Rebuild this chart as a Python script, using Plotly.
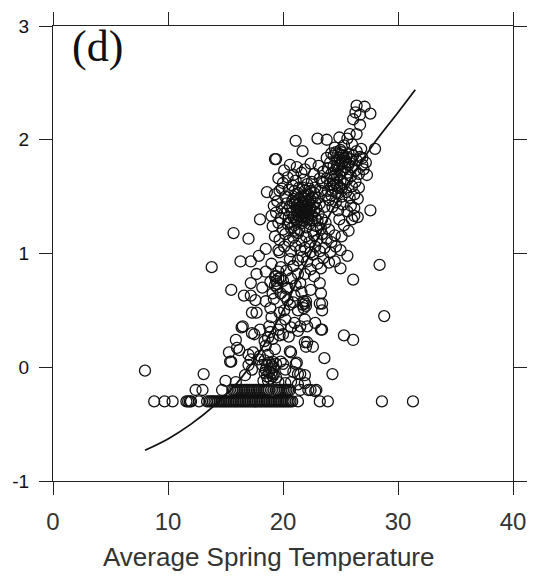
import plotly.graph_objects as go

# ---- data ----
# temperatures of the points sitting on the two lowest rows
row_m030_temp = [8.8, 9.7, 10.4, 11.6, 11.75, 11.9, 12.0, 12.7, 13.4, 13.6, 13.75, 13.9, 14.05,
                 14.2, 14.35, 14.5, 14.65, 14.8, 14.95, 15.1, 15.25, 15.4, 15.55, 15.7, 15.85,
                 16.0, 16.15, 16.3, 16.45, 16.6, 16.75, 16.9, 17.05, 17.2, 17.35, 17.5, 17.65,
                 17.8, 17.95, 18.1, 18.25, 18.4, 18.55, 18.7, 18.85, 19.0, 19.15, 19.3, 19.45,
                 19.6, 19.75, 19.9, 20.05, 20.2, 20.35, 20.5, 20.65, 20.8, 21.3, 23.2, 23.9,
                 28.6, 31.3]
row_m030_value = -0.30
row_m020_temp = [12.4, 13.0, 14.7, 15.6, 15.75, 15.9, 16.05, 16.2, 16.35, 16.5, 16.65, 16.8,
                 16.95, 17.1, 17.25, 17.4, 17.55, 17.7, 17.85, 18.0, 18.15, 18.3, 18.45, 18.6,
                 18.75, 19.4, 19.55, 19.7, 19.85, 20.0, 20.15, 20.3, 20.45, 20.6, 21.5, 22.2, 22.9]
row_m020_value = -0.20

lower_band = [(13.1, -0.06), (15.0, -0.12), (15.9, -0.13), (15.3, 0.13), (15.4, 0.05), (15.5, 0.05),
              (15.9, 0.24), (16.0, 0.17), (16.2, 0.15), (16.4, 0.35), (16.5, 0.36), (16.7, -0.07),
              (17.0, 0.11), (17.0, 0.02), (17.2, 0.07), (17.3, -0.02), (17.3, 0.30), (17.4, 0.13),
              (17.5, 0.29), (17.9, 0.07), (18.0, 0.33), (18.0, 0.10), (18.2, 0.02), (18.4, -0.05),
              (18.4, 0.23), (18.5, 0.19), (18.5, -0.02), (18.6, -0.08), (18.7, 0.11), (18.7, 0.26),
              (18.8, 0.04), (18.9, -0.10), (18.9, 0.31), (19.0, -0.05), (19.1, 0.25), (19.2, 0.00),
              (19.3, 0.16), (19.4, 0.03), (19.6, 0.33), (19.6, -0.13), (19.7, 0.28), (19.8, 0.05),
              (20.0, 0.29), (20.0, 0.03), (20.2, -0.02), (20.2, -0.14), (20.6, 0.14), (20.7, 0.35),
              (20.7, 0.13), (20.7, -0.13), (20.9, -0.04), (21.1, 0.03), (21.2, 0.04), (21.3, -0.15),
              (21.3, -0.06), (21.5, 0.36), (21.5, -0.06), (21.9, -0.07), (21.9, -0.14), (21.9, 0.22),
              (22.0, 0.18), (22.1, 0.22), (22.4, -0.20), (22.6, 0.18), (22.8, -0.21), (23.6, 0.08),
              (24.3, -0.06), (18.3, -0.12), (19.1, -0.08), (18.6, 0.02), (18.8, -0.04), (19.0, 0.02),
              (19.2, -0.06), (18.4, 0.06), (18.9, -0.01), (19.1, 0.05), (18.7, -0.12), (19.4, -0.09)]

middle_band = [(13.8, 0.88), (15.5, 0.68), (15.7, 1.18), (16.3, 0.93), (16.6, 0.63), (17.0, 1.13),
               (17.2, 0.93), (17.2, 0.74), (17.2, 0.63), (17.3, 0.48), (17.6, 0.59), (17.7, 0.82),
               (17.7, 0.48), (17.9, 0.98), (18.5, 1.04), (18.5, 0.84), (18.5, 0.58), (18.9, 0.75),
               (18.9, 0.52), (19.0, 0.91), (19.1, 0.65), (19.3, 0.80), (19.4, 0.80), (19.6, 0.84),
               (19.7, 1.01), (19.7, 0.48), (19.8, 0.65), (19.8, 0.88), (19.8, 0.37), (20.2, 0.42),
               (20.3, 0.85), (20.3, 0.69), (20.4, 0.59), (20.6, 0.95), (20.7, 0.78), (20.9, 0.89),
               (21.0, 0.63), (21.0, 0.39), (21.3, 0.94), (21.3, 0.82), (21.3, 0.50), (21.3, 0.32),
               (21.5, 0.74), (21.9, 0.82), (21.9, 0.56), (21.8, 0.58), (22.0, 0.54), (21.9, 0.42),
               (22.1, 0.36), (22.1, 0.93), (22.4, 0.68), (22.6, 0.99), (22.8, 0.39), (23.0, 0.91),
               (23.2, 0.74), (23.3, 0.65), (23.3, 0.33), (23.4, 0.56), (23.2, 0.56), (23.4, 0.50),
               (23.4, 0.33), (19.5, 0.70), (20.0, 0.76), (20.6, 0.55), (19.2, 0.60), (18.2, 0.70),
               (20.1, 0.50), (21.6, 0.66), (22.7, 0.80), (18.8, 0.36), (20.5, 0.27), (19.0, 0.44),
               (19.4, 0.76), (19.6, 0.78), (19.5, 0.73), (19.8, 0.79), (19.3, 0.72), (21.8, 0.52),
               (22.0, 0.58), (21.7, 0.55), (20.2, 0.62), (20.4, 0.70), (21.1, 0.72), (20.9, 0.57)]

main_cluster = [(19.4, 1.83), (20.1, 1.73), (20.6, 1.78), (21.2, 1.76), (21.9, 1.74), (22.4, 1.79),
                (23.1, 1.77), (20.9, 1.69), (21.6, 1.71), (22.7, 1.70), (19.6, 1.66), (20.0, 1.62),
                (20.4, 1.67), (20.8, 1.60), (21.1, 1.64), (21.4, 1.58), (21.8, 1.65), (22.1, 1.61),
                (22.5, 1.63), (22.8, 1.58), (23.2, 1.66), (23.5, 1.62), (19.9, 1.57), (21.0, 1.55),
                (19.3, 1.52), (19.7, 1.55), (20.2, 1.50), (20.5, 1.56), (20.9, 1.48), (21.3, 1.53),
                (21.6, 1.50), (21.9, 1.55), (22.2, 1.52), (22.4, 1.47), (22.7, 1.53), (23.0, 1.49),
                (23.3, 1.55), (23.7, 1.51), (21.7, 1.58), (22.0, 1.46), (19.2, 1.42), (19.5, 1.46),
                (19.9, 1.40), (20.3, 1.44), (20.6, 1.41), (21.0, 1.43), (21.2, 1.38), (21.5, 1.45),
                (21.8, 1.41), (22.1, 1.43), (22.3, 1.38), (22.6, 1.42), (22.9, 1.40), (23.2, 1.44),
                (23.6, 1.41), (21.4, 1.40), (21.7, 1.36), (22.0, 1.37), (19.0, 1.33), (19.4, 1.36),
                (19.8, 1.31), (20.1, 1.35), (20.5, 1.32), (20.8, 1.36), (21.1, 1.30), (21.3, 1.34),
                (21.6, 1.32), (21.9, 1.33), (22.2, 1.30), (22.5, 1.34), (22.8, 1.31), (23.1, 1.35),
                (23.4, 1.30), (21.5, 1.36), (21.8, 1.29), (22.0, 1.35), (19.1, 1.24), (19.6, 1.27),
                (20.0, 1.21), (20.4, 1.26), (20.7, 1.22), (21.0, 1.25), (21.4, 1.21), (21.7, 1.27),
                (22.0, 1.23), (22.3, 1.26), (22.6, 1.20), (22.9, 1.24), (23.3, 1.22), (23.7, 1.27),
                (24.0, 1.21), (21.2, 1.28), (19.3, 1.15), (19.7, 1.12), (20.2, 1.17), (20.5, 1.11),
                (20.9, 1.14), (21.3, 1.18), (21.6, 1.11), (22.0, 1.15), (22.3, 1.10), (22.7, 1.16),
                (23.0, 1.12), (23.4, 1.17), (23.8, 1.13), (24.2, 1.10), (24.5, 1.16), (19.6, 1.03),
                (20.1, 1.06), (20.7, 1.02), (21.1, 1.07), (21.5, 1.03), (21.9, 1.05), (22.4, 1.01),
                (22.8, 1.06), (23.2, 1.02), (23.6, 1.05), (24.1, 1.01), (24.6, 1.06), (25.0, 1.03),
                (20.9, 0.89), (21.7, 0.97), (23.5, 0.96), (24.0, 0.92), (23.3, 0.87), (22.4, 0.86),
                (18.0, 1.30), (18.6, 1.54), (21.1, 1.99), (21.7, 1.90), (21.8, 1.48), (22.1, 1.40),
                (21.6, 1.42), (22.2, 1.35), (21.4, 1.33), (22.4, 1.55), (21.2, 1.46), (22.5, 1.29),
                (21.5, 1.39), (21.7, 1.33), (21.9, 1.38), (22.1, 1.32), (21.6, 1.29), (21.8, 1.35),
                (22.0, 1.41), (21.4, 1.48), (21.9, 1.51), (22.2, 1.46), (22.3, 1.57), (21.7, 1.44),
                (22.6, 1.49), (22.8, 1.45), (21.3, 1.43), (20.8, 1.46), (21.1, 1.52), (22.4, 1.40),
                (20.6, 1.27), (20.9, 1.32), (22.7, 1.37), (23.0, 1.29), (20.4, 1.38), (21.0, 1.20)]

upper_cluster = [(23.0, 2.01), (23.8, 2.00), (24.9, 2.02), (25.6, 2.01), (25.8, 2.05), (26.4, 2.05),
                 (25.3, 1.95), (26.0, 1.96), (26.4, 1.90), (24.5, 1.93), (25.0, 1.91), (24.2, 1.88),
                 (23.8, 1.84), (24.1, 1.80), (24.4, 1.86), (24.7, 1.82), (25.0, 1.87), (25.2, 1.81),
                 (25.5, 1.85), (25.8, 1.80), (26.1, 1.86), (26.4, 1.82), (26.7, 1.85), (26.9, 1.78),
                 (27.2, 1.80), (24.9, 1.78), (25.4, 1.76), (26.0, 1.76), (23.5, 1.72), (23.9, 1.75),
                 (24.2, 1.70), (24.6, 1.74), (24.9, 1.69), (25.2, 1.73), (25.6, 1.71), (25.9, 1.68),
                 (26.3, 1.73), (26.6, 1.70), (27.0, 1.74), (24.4, 1.77), (25.7, 1.78), (23.4, 1.63),
                 (23.8, 1.66), (24.1, 1.61), (24.4, 1.65), (24.7, 1.60), (25.0, 1.64), (25.3, 1.61),
                 (25.6, 1.65), (26.0, 1.59), (26.3, 1.63), (26.6, 1.58), (24.5, 1.69), (25.1, 1.57),
                 (23.9, 1.55), (24.2, 1.51), (24.5, 1.57), (24.8, 1.53), (25.1, 1.50), (25.5, 1.54),
                 (25.8, 1.49), (26.2, 1.52), (26.5, 1.48), (24.0, 1.47), (24.6, 1.45), (24.3, 1.41),
                 (24.8, 1.38), (25.2, 1.43), (25.6, 1.37), (25.9, 1.42), (26.2, 1.33), (26.5, 1.32),
                 (26.0, 1.30), (24.9, 1.30), (25.3, 1.25), (25.7, 1.20), (25.1, 1.15), (26.2, 1.40),
                 (24.8, 1.88), (25.3, 1.84), (25.1, 1.79), (24.6, 1.89), (25.7, 1.88), (26.8, 1.92),
                 (24.9, 1.84), (25.1, 1.89), (25.4, 1.80), (24.7, 1.77), (25.2, 1.86), (25.9, 1.83),
                 (24.6, 1.62), (24.9, 1.58), (24.3, 1.55), (24.7, 1.67), (25.0, 1.72), (24.4, 1.60)]

outliers = [(8.0, -0.03), (26.3, 2.24), (26.4, 2.30), (26.7, 2.22), (27.1, 2.29), (27.6, 2.23),
            (26.1, 2.18), (26.7, 2.13), (28.0, 1.92), (27.3, 1.69), (27.6, 1.38), (28.4, 0.90),
            (28.8, 0.45), (25.6, 0.98), (24.5, 0.93), (25.0, 0.87), (26.1, 0.77), (25.3, 0.28),
            (26.1, 0.24), (19.3, 1.83), (26.9, 1.84)]

# fitted curve
curve_temp = [8.0, 10.0, 12.0, 14.0, 16.0, 18.0, 20.0, 22.0, 24.0, 26.0, 28.0, 30.0, 31.5]
curve_value = [-0.73, -0.63, -0.50, -0.34, -0.14, 0.14, 0.50, 0.92, 1.33, 1.68, 1.98, 2.24, 2.44]

x_ticks = [0, 10, 20, 30, 40]
y_ticks = [-1, 0, 1, 2, 3]
panel_label = "(d)"
x_title = "Average Spring Temperature"

# ---- assemble ----
pts_x, pts_y = [], []
for t in row_m030_temp:
    pts_x.append(t); pts_y.append(row_m030_value)
for t in row_m020_temp:
    pts_x.append(t); pts_y.append(row_m020_value)
for group in (lower_band, middle_band, main_cluster, upper_cluster, outliers):
    for t, v in group:
        pts_x.append(t); pts_y.append(v)

fig = go.Figure()
fig.add_trace(go.Scatter(
    x=pts_x, y=pts_y, mode="markers",
    marker=dict(symbol="circle-open", size=11, color="#111111", line=dict(width=1.3)),
    showlegend=False, hoverinfo="skip"))
fig.add_trace(go.Scatter(
    x=curve_temp, y=curve_value, mode="lines",
    line=dict(color="#111111", width=1.8, shape="spline", smoothing=0.8),
    showlegend=False, hoverinfo="skip"))

axis_common = dict(showgrid=False, zeroline=False, showline=True, linecolor="#222222",
                   linewidth=1.2, ticks="outside", ticklen=13, tickwidth=1.2,
                   tickcolor="#222222", mirror="allticks")
fig.update_xaxes(range=[0, 40], tickvals=x_ticks, ticktext=[str(v) for v in x_ticks],
                 tickfont=dict(family="Liberation Sans, Arial", size=24, color="#333333"),
                 ticklabelstandoff=6, **axis_common)
fig.update_yaxes(range=[-1, 3], tickvals=y_ticks, ticktext=[str(v) for v in y_ticks],
                 tickfont=dict(family="Liberation Sans, Arial", size=19, color="#111111"),
                 ticklabelstandoff=6, **axis_common)

fig.add_annotation(text=panel_label, xref="paper", yref="paper", x=0.097, y=0.955,
                   xanchor="center", yanchor="middle", showarrow=False,
                   font=dict(family="Liberation Serif, Times New Roman", size=44, color="#111111"))
fig.add_annotation(text=x_title, xref="paper", yref="paper", x=0.468, y=-0.167,
                   xanchor="center", yanchor="middle", showarrow=False,
                   font=dict(family="Liberation Sans, Arial", size=26, color="#333333"))

fig.update_layout(width=539, height=577, margin=dict(l=52, r=21, t=18, b=96),
                  paper_bgcolor="white", plot_bgcolor="white")
fig.write_html("out.html")
